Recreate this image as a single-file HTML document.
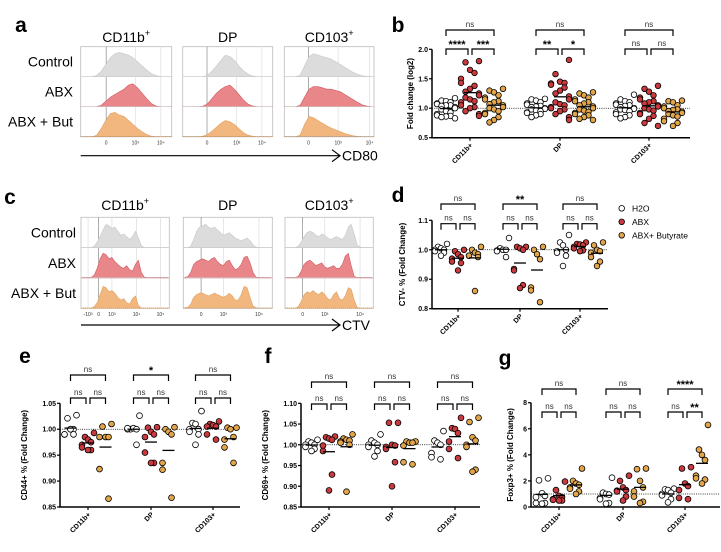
<!DOCTYPE html>
<html><head><meta charset="utf-8">
<style>
html,body{margin:0;padding:0;background:#fff;}
svg{display:block;font-family:"Liberation Sans",Arial,sans-serif;}
</style></head>
<body>
<svg id="fig" width="721" height="552" viewBox="0 0 721 552" xmlns="http://www.w3.org/2000/svg"></svg>
<script>
// ---------- DATA ----------
const categories = ["CD11b+","DP","CD103+"];
const conditions = ["H2O","ABX","ABX+ Butyrate"];
const histRows = ["Control","ABX","ABX + But"];
const histCols = ["CD11b","DP","CD103"];

// panel b: Fold change (log2)
const b_cd11b_h2o=[1.17,1.13,1.12,1.1,1.08,1.07,1.05,1.05,1.04,1.02,1.0,0.98,0.95,0.93,0.9,0.88,0.87,0.86,0.85,0.83];
const b_cd11b_abx=[1.8,1.78,1.65,1.6,1.5,1.43,1.38,1.33,1.28,1.25,1.22,1.18,1.15,1.12,1.1,1.05,1.02,1.0,0.95,0.9,0.87];
const b_cd11b_but=[1.33,1.3,1.27,1.22,1.18,1.15,1.12,1.1,1.07,1.05,1.02,1.0,0.98,0.95,0.92,0.9,0.85,0.8,0.76];
const b_dp_h2o=[1.16,1.15,1.13,1.1,1.08,1.06,1.04,1.03,1.02,1.0,0.99,0.98,0.96,0.95,0.93,0.92,0.9,0.88,0.85];
const b_dp_abx=[1.82,1.58,1.45,1.43,1.42,1.4,1.35,1.3,1.25,1.2,1.15,1.1,1.07,1.05,1.02,1.0,0.98,0.95,0.9,0.85,0.8];
const b_dp_but=[1.27,1.25,1.22,1.18,1.15,1.12,1.1,1.08,1.05,1.03,1.0,0.98,0.96,0.94,0.92,0.9,0.88,0.85,0.82,0.8];
const b_cd103_h2o=[1.23,1.15,1.12,1.1,1.08,1.06,1.05,1.04,1.02,1.0,0.99,0.98,0.97,0.95,0.93,0.9,0.88,0.85,0.83];
const b_cd103_abx=[1.38,1.33,1.28,1.22,1.18,1.15,1.12,1.1,1.08,1.05,1.03,1.0,0.98,0.96,0.92,0.9,0.87,0.82,0.75,0.7];
const b_cd103_but=[1.13,1.12,1.1,1.05,1.03,1.0,0.98,0.97,0.95,0.94,0.92,0.9,0.88,0.86,0.82,0.78,0.75,0.7];
const b_ticks=[0.5,1.0,1.5,2.0];
const b_sig_top=["ns","ns","ns"];
const b_sig_left=["****","**","ns"];
const b_sig_right=["***","*","ns"];

// panel d: CTV- %
const d_cd11b_h2o=[1.02,1.01,1.005,1.0,1.0,0.995,0.99,0.98];
const d_cd11b_abx=[1.0,0.995,0.985,0.975,0.97,0.96,0.955,0.93];
const d_cd11b_but=[1.01,1.0,0.99,0.985,0.98,0.98,0.975,0.86];
const d_dp_h2o=[1.04,1.005,1.0,1.0,0.998,0.995,0.975];
const d_dp_abx=[1.01,1.01,1.005,1.0,0.935,0.93,0.88,0.87];
const d_dp_but=[1.01,1.0,0.985,0.968,0.872,0.862,0.822];
const d_cd103_h2o=[1.05,1.025,1.015,1.0,0.995,0.99,0.98,0.945];
const d_cd103_abx=[1.025,1.02,1.018,1.015,1.01,1.005,0.998,0.995];
const d_cd103_but=[1.025,1.015,1.0,0.995,0.99,0.975,0.96,0.945];
const d_ticks=[0.8,0.9,1.0,1.1];
const d_sig_top=["ns","**","ns"];
const d_sig_left=["ns","ns","ns"];
const d_sig_right=["ns","ns","ns"];

// panel e: CD44+ %
const e_cd11b_h2o=[1.027,1.021,1.0,1.0,0.99,0.99,0.99,1.0];
const e_cd11b_abx=[0.993,0.985,0.98,0.975,0.97,0.965,0.96,0.96];
const e_cd11b_but=[1.01,1.005,0.985,0.985,0.985,0.923,0.866];
const e_dp_h2o=[1.026,1.0,1.002,1.0,1.0,1.002,0.97];
const e_dp_abx=[1.004,1.003,0.995,0.99,0.985,0.955,0.935,0.935];
const e_dp_but=[1.004,1.0,0.995,0.99,0.935,0.922,0.868];
const e_cd103_h2o=[1.035,1.012,1.01,1.0,1.0,0.995,0.99,0.97];
const e_cd103_abx=[1.015,1.01,1.008,1.005,1.005,0.99,0.98];
const e_cd103_but=[1.003,1.003,1.0,0.985,0.98,0.965,0.935];
const e_ticks=[0.85,0.90,0.95,1.00,1.05];
const e_sig_top=["ns","*","ns"];
const e_sig_left=["ns","ns","ns"];
const e_sig_right=["ns","ns","ns"];

// panel f: CD69+ %
const f_cd11b_h2o=[1.012,1.008,1.005,1.0,1.0,0.995,0.99,0.985];
const f_cd11b_abx=[1.02,1.018,1.015,1.012,0.998,0.985,0.928,0.89];
const f_cd11b_but=[1.025,1.015,1.012,1.01,1.008,1.005,1.0,0.887];
const f_dp_h2o=[1.025,1.01,1.005,1.0,1.0,0.995,0.985,0.972];
const f_dp_abx=[1.053,1.053,1.0,0.998,0.995,0.99,0.958,0.9];
const f_dp_but=[1.008,1.008,1.005,1.005,0.998,0.958,0.953];
const f_cd103_h2o=[1.033,1.01,1.005,1.0,0.98,0.97,0.965];
const f_cd103_abx=[1.065,1.04,1.038,1.028,1.008,0.99,0.968];
const f_cd103_but=[1.065,1.055,1.018,1.01,1.0,0.995,0.94,0.935];
const f_ticks=[0.85,0.90,0.95,1.00,1.05,1.10];
const f_sig_top=["ns","ns","ns"];
const f_sig_left=["ns","ns","ns"];
const f_sig_right=["ns","ns","ns"];

// panel g: Foxp3+ %
const g_cd11b_h2o=[2.2,2.05,1.05,0.85,0.75,0.3,0.3,0.25];
const g_cd11b_abx=[1.95,1.3,0.85,0.75,0.6,0.55,0.5,0.5];
const g_cd11b_but=[2.95,2.0,1.8,1.7,1.5,1.4,1.2,1.0];
const g_dp_h2o=[2.25,1.1,1.0,0.95,0.7,0.6,0.3,0.25];
const g_dp_abx=[2.4,2.0,1.5,1.3,1.25,1.2,0.8,0.5];
const g_dp_but=[2.95,2.9,2.0,1.5,1.2,0.8,0.4,0.3];
const g_cd103_h2o=[1.4,1.35,1.3,1.1,1.0,0.9,0.6,0.35];
const g_cd103_abx=[3.05,2.95,1.8,1.6,1.3,0.7,0.6];
const g_cd103_but=[6.3,4.4,4.0,3.6,2.4,2.2,2.1,1.8];
const g_ticks=[0,2,4,6,8];
const g_sig_top=["ns","ns","****"];
const g_sig_left=["ns","ns","ns"];
const g_sig_right=["ns","ns","**"];

// histograms panel a (CD80), relative heights across box width
const a_cd11b_ctrl=[0,0,0,0.05,0.2,0.45,0.7,0.85,0.9,0.85,0.8,0.7,0.55,0.4,0.25,0.12,0.05,0,0,0];
const a_cd11b_abx=[0,0,0,0,0.05,0.2,0.35,0.45,0.55,0.65,0.8,0.85,0.7,0.5,0.3,0.12,0.03,0,0,0];
const a_cd11b_but=[0,0,0,0.05,0.3,0.6,0.85,0.9,0.8,0.75,0.6,0.45,0.3,0.18,0.08,0.02,0,0,0,0];
const a_dp_ctrl=[0,0,0,0,0,0.05,0.2,0.4,0.6,0.8,0.75,0.6,0.4,0.22,0.1,0.03,0,0,0,0];
const a_dp_abx=[0,0,0,0,0.02,0.1,0.3,0.5,0.65,0.75,0.8,0.65,0.45,0.25,0.1,0.03,0,0,0,0];
const a_dp_but=[0,0,0,0,0.02,0.08,0.2,0.35,0.5,0.6,0.55,0.45,0.3,0.15,0.06,0.02,0,0,0,0];
const a_cd103_ctrl=[0,0,0,0.05,0.4,0.75,0.85,0.8,0.75,0.7,0.65,0.55,0.45,0.35,0.25,0.15,0.08,0.03,0.01,0];
const a_cd103_abx=[0,0,0,0.05,0.35,0.65,0.75,0.75,0.7,0.65,0.65,0.6,0.55,0.45,0.35,0.25,0.15,0.06,0.02,0];
const a_cd103_but=[0,0,0,0.05,0.45,0.75,0.7,0.6,0.5,0.4,0.32,0.25,0.18,0.12,0.07,0.03,0.01,0,0,0];
// histograms panel c (CTV)
const c_cd11b_ctrl=[0,0,0,0,0.05,0.2,0.4,0.65,0.85,0.8,0.7,0.75,0.6,0.45,0.5,0.4,0.3,0.4,0.6,0.35,0.08,0,0,0,0,0,0,0,0,0];
const c_cd11b_abx=[0.02,0.02,0.02,0.02,0.1,0.35,0.7,0.9,0.85,0.7,0.75,0.6,0.5,0.4,0.35,0.45,0.3,0.25,0.5,0.65,0.2,0.03,0.02,0.02,0.02,0.02,0.02,0.02,0.02,0.02];
const c_cd11b_but=[0,0,0,0,0.05,0.2,0.5,0.8,0.75,0.6,0.65,0.55,0.4,0.3,0.35,0.2,0.15,0.35,0.45,0.1,0,0,0,0,0,0,0,0,0,0];
const c_dp_ctrl=[0,0,0.05,0.3,0.6,0.75,0.8,0.85,0.75,0.7,0.75,0.65,0.55,0.45,0.5,0.55,0.45,0.35,0.3,0.25,0.3,0.35,0.25,0.1,0.02,0,0,0,0,0];
const c_dp_abx=[0.02,0.05,0.2,0.5,0.6,0.65,0.7,0.65,0.6,0.7,0.75,0.6,0.5,0.45,0.6,0.65,0.45,0.3,0.35,0.5,0.75,0.8,0.55,0.2,0.03,0.02,0.02,0.02,0.02,0.02];
const c_dp_but=[0.02,0.03,0.15,0.4,0.5,0.55,0.55,0.5,0.45,0.5,0.55,0.5,0.45,0.4,0.45,0.55,0.45,0.3,0.3,0.5,0.8,0.75,0.4,0.08,0.02,0,0,0,0,0];
const c_cd103_ctrl=[0,0,0,0,0.05,0.2,0.4,0.55,0.6,0.55,0.45,0.4,0.5,0.45,0.35,0.3,0.35,0.4,0.35,0.3,0.45,0.75,0.85,0.5,0.1,0.02,0,0,0,0];
const c_cd103_abx=[0.02,0.02,0.02,0.02,0.05,0.25,0.5,0.6,0.65,0.55,0.45,0.5,0.55,0.4,0.35,0.4,0.45,0.35,0.35,0.5,0.8,0.9,0.45,0.05,0.02,0.02,0.02,0.02,0.02,0.02];
const c_cd103_but=[0,0,0,0,0.05,0.25,0.5,0.6,0.55,0.65,0.55,0.5,0.6,0.5,0.35,0.3,0.5,0.6,0.35,0.3,0.45,0.75,0.7,0.3,0.03,0,0,0,0,0];

// ---------- DRAWING ----------
const NS="http://www.w3.org/2000/svg";
const svg=document.getElementById('fig');
function mk(tag,attrs,parent){const e=document.createElementNS(NS,tag);for(const k in attrs)e.setAttribute(k,attrs[k]);(parent||svg).appendChild(e);return e;}
function txt(s,attrs,parent){const t=mk('text',attrs,parent);t.textContent=s;return t;}

const FILL=["#fff","#c9393d","#e3a54a"];
const HFILL=["#dcdcdc","#e8868a","#f2b77e"];
const HSTROKE=["#c8c8c8","#d25a62","#e0a060"];

function letter(s,x,y){const t=txt(s,{x:x,y:y,'font-size':21,'font-weight':'bold','text-anchor':'middle'});

}

function histPanel(id,L,data,ticks,axisLabel,arrowEnd){
  const g=mk('g',{});
  
  
  histRows.forEach((r,ri)=>{
    const t=txt(r,{x:L.rowX,y:L.top+L.rh*ri+L.rh/2+5,'font-size':14,'text-anchor':'end'},g);
    
    
  });
  L.boxes.forEach((bx,ci)=>{
    const tt=txt(L.titles[ci],{x:(bx[0]+bx[1])/2,y:L.titleY,'font-size':14,'text-anchor':'middle'},g);
    if(L.titles[ci]!=="DP"){const sp=document.createElementNS(NS,'tspan');sp.setAttribute('font-size',9);sp.setAttribute('dy',-6);sp.textContent='+';tt.appendChild(sp);}
    
    
    const w=bx[1]-bx[0], h=L.rh*3;
    const box=mk('rect',{x:bx[0],y:L.top,width:w,height:h,fill:'#fff',stroke:'#bbb','stroke-width':0.8},g);
    
    
    ticks[ci].forEach((tk,k)=>{
      const x=bx[0]+tk[0]*w;
      mk('line',{x1:x,x2:x,y1:L.top,y2:L.top+h,stroke:k===L.zeroIdx[ci]?'#888':'#ddd','stroke-width':0.7},g);
      const tl=txt(tk[1],{x:x,y:L.top+h+8,'font-size':5,'text-anchor':'middle',fill:'#333'},g);
      
      
    });
    for(let ri=0;ri<3;ri++){
      const arr=data[ci][ri], base=L.top+L.rh*(ri+1), n=arr.length;
      let p='M'+bx[0]+','+base;
      arr.forEach((v,i)=>{const x=bx[0]+(i+0.5)/n*w;p+=' L'+x.toFixed(1)+','+(base-v*(L.rh-3)).toFixed(1);});
      p+=' L'+bx[1]+','+base+' Z';
      const path=mk('path',{d:p,fill:HFILL[ri],stroke:HSTROKE[ri],'stroke-width':0.6,'stroke-linejoin':'round'},g);
      
      
      if(ri<2) mk('line',{x1:bx[0],x2:bx[1],y1:base,y2:base,stroke:'#ccc','stroke-width':0.7},g);
    }
    mk('line',{x1:bx[0],x2:bx[1],y1:L.top+h,y2:L.top+h,stroke:'#999','stroke-width':0.8,'stroke-dasharray':'1,1'},g);
  });
  const ay=L.arrowY;
  const ar=mk('path',{d:`M${L.boxes[0][0]},${ay} L${arrowEnd},${ay} M${arrowEnd-8},${ay-6} L${arrowEnd},${ay} L${arrowEnd-8},${ay+6}`,stroke:'#000','stroke-width':1.2,fill:'none'},g);
  
  
  const al=txt(axisLabel,{x:arrowEnd+2,y:ay+5,'font-size':14},g);
  
  
}

function scatterPanel(id,P,series,ticks,sigTop,sigL,sigR){
  const g=mk('g',{});
  
  
  const y=v=>P.yB-(v-P.vmin)/(P.vmax-P.vmin)*(P.yB-P.yT);
  const ya=mk('line',{x1:P.ax,x2:P.ax,y1:P.yT,y2:P.yB,stroke:'#000','stroke-width':1.5},g);
  
  
  const xa=mk('line',{x1:P.ax-0.7,x2:P.xEnd,y1:P.yB,y2:P.yB,stroke:'#000','stroke-width':1.5},g);
  
  
  ticks.forEach(t=>{
    mk('line',{x1:P.ax-3,x2:P.ax,y1:y(t),y2:y(t),stroke:'#000','stroke-width':1.2},g);
    const tl=txt(t.toFixed(P.dec),{x:P.ax-4,y:y(t)+2.5,'font-size':7,'font-weight':'bold','text-anchor':'end'},g);
    
    
  });
  const yt=txt(P.title,{x:P.titleX,y:(P.yT+P.yB)/2,'font-size':8,'font-weight':'bold','text-anchor':'middle',transform:`rotate(-90 ${P.titleX} ${(P.yT+P.yB)/2})`},g);
  
  
  const ref=mk('line',{x1:P.ax,x2:P.xEnd,y1:y(P.ref),y2:y(P.ref),stroke:'#000','stroke-width':0.8,'stroke-dasharray':'1,1.2'},g);
  
  
  categories.forEach((c,gi)=>{
    const gc=P.gc[gi];
    mk('line',{x1:gc,x2:gc,y1:P.yB,y2:P.yB+3,stroke:'#000','stroke-width':1.2},g);
    const cl=txt(c,{x:gc+3,y:P.yB+8,'font-size':7,'font-weight':'bold','text-anchor':'end',transform:`rotate(-45 ${gc+3} ${P.yB+8})`},g);
    
    
    const xs=[gc-P.off,gc,gc+P.off];
    series[gi].forEach((arr,si)=>{
      arr.forEach((v,i)=>{
        const jit=((i%5)-2)*P.jit*(i%2?1:-1)*0.5;
        const ci=mk('circle',{cx:(xs[si]+jit).toFixed(1),cy:y(v).toFixed(1),r:P.r,fill:FILL[si],stroke:'#000','stroke-width':0.8},g);
        
        
      });
      const m=arr.reduce((a,b)=>a+b,0)/arr.length;
      const ml=mk('line',{x1:xs[si]-6,x2:xs[si]+6,y1:y(m),y2:y(m),stroke:'#000','stroke-width':1.3},g);
      
      
    });
    const br=(x1,x2,yy,lab)=>{
      const b=mk('path',{d:`M${x1},${yy+6} L${x1},${yy} L${x2},${yy} L${x2},${yy+6}`,fill:'none',stroke:'#000','stroke-width':1.2},g);
      
      
      const star=lab!=='ns';
      const t=txt(lab,{x:(x1+x2)/2,y:yy-(star?1:3),'font-size':star?11:8,'font-weight':star?'bold':'normal','text-anchor':'middle',fill:star?'#000':'#333'},g);
      
      
    };
    br(xs[0],xs[2],P.bTop,sigTop[gi]);
    br(xs[0],xs[1]-2,P.bBot,sigL[gi]);
    br(xs[1]+2,xs[2],P.bBot,sigR[gi]);
  });
}

letter('a',21,32);
histPanel('a',{rowX:73,top:46.7,rh:30,titleY:42,arrowY:155.7,zeroIdx:[0,0,0],
  boxes:[[80.7,171.7],[182.7,272.7],[284.3,374]],titles:["CD11b","DP","CD103"]},
  [[a_cd11b_ctrl,a_cd11b_abx,a_cd11b_but],[a_dp_ctrl,a_dp_abx,a_dp_but],[a_cd103_ctrl,a_cd103_abx,a_cd103_but]],
  [[[0.28,'0'],[0.6,'10³'],[0.88,'10⁴']],[[0.27,'0'],[0.6,'10³'],[0.88,'10⁴']],[[0.27,'0'],[0.6,'10³'],[0.95,'10⁴']]],
  'CD80',340);
letter('c',10,204);
histPanel('c',{rowX:76,top:217.3,rh:30.3,titleY:210,arrowY:325,zeroIdx:[1,0,0],
  boxes:[[81,169.3],[183.3,272.3],[285,373.3]],titles:["CD11b","DP","CD103"]},
  [[c_cd11b_ctrl,c_cd11b_abx,c_cd11b_but],[c_dp_ctrl,c_dp_abx,c_dp_but],[c_cd103_ctrl,c_cd103_abx,c_cd103_but]],
  [[[0.08,'-10³'],[0.2,'0'],[0.35,'10³'],[0.63,'10⁴'],[0.9,'10⁵']],[[0.2,'0'],[0.45,'10³'],[0.85,'10⁴']],[[0.2,'0'],[0.45,'10³'],[0.85,'10⁴']]],
  'CTV',340);

letter('b',398,32);
scatterPanel('b',{ax:432,xEnd:690,yT:49.3,yB:137.7,vmin:0.5,vmax:2.0,dec:1,ref:1,title:'Fold change (log2)',titleX:413,
  gc:[470,560,649],off:24,jit:9,r:2.8,bTop:30,bBot:49},
  [[b_cd11b_h2o,b_cd11b_abx,b_cd11b_but],[b_dp_h2o,b_dp_abx,b_dp_but],[b_cd103_h2o,b_cd103_abx,b_cd103_but]],
  b_ticks,b_sig_top,b_sig_left,b_sig_right);

letter('d',398,202);
scatterPanel('d',{ax:432,xEnd:608,yT:220.3,yB:308.7,vmin:0.8,vmax:1.1,dec:1,ref:1,title:'CTV- % (Fold Change)',titleX:405,
  gc:[458,520,580],off:17,jit:6,r:2.8,bTop:204,bBot:223.7},
  [[d_cd11b_h2o,d_cd11b_abx,d_cd11b_but],[d_dp_h2o,d_dp_abx,d_dp_but],[d_cd103_h2o,d_cd103_abx,d_cd103_but]],
  d_ticks,d_sig_top,d_sig_left,d_sig_right);
conditions.forEach((c,i)=>{
  const lc=mk('circle',{cx:621.7,cy:208.3+i*13.5,r:2.8,fill:FILL[i],stroke:'#000','stroke-width':0.8});
  
  
  const lt=txt(c,{x:632,y:211.5+i*13.5,'font-size':8.5});
  
  
});

letter('e',25,363);
scatterPanel('e',{ax:60,xEnd:240,yT:403.3,yB:507,vmin:0.85,vmax:1.05,dec:2,ref:1,title:'CD44+ % (Fold Change)',titleX:27,
  gc:[88,151,213],off:17.5,jit:6,r:2.9,bTop:375,bBot:398},
  [[e_cd11b_h2o,e_cd11b_abx,e_cd11b_but],[e_dp_h2o,e_dp_abx,e_dp_but],[e_cd103_h2o,e_cd103_abx,e_cd103_but]],
  e_ticks,e_sig_top,e_sig_left,e_sig_right);

letter('f',268,363);
scatterPanel('f',{ax:301,xEnd:480,yT:403.3,yB:507,vmin:0.85,vmax:1.10,dec:2,ref:1,title:'CD69+ % (Fold Change)',titleX:268,
  gc:[329,392,455],off:17.5,jit:6,r:2.9,bTop:382,bBot:404},
  [[f_cd11b_h2o,f_cd11b_abx,f_cd11b_but],[f_dp_h2o,f_dp_abx,f_dp_but],[f_cd103_h2o,f_cd103_abx,f_cd103_but]],
  f_ticks,f_sig_top,f_sig_left,f_sig_right);

letter('g',505,365);
scatterPanel('g',{ax:531,xEnd:720,yT:402.7,yB:507,vmin:0,vmax:8,dec:0,ref:1,title:'Foxp3+ % (Fold Change)',titleX:513,
  gc:[559,623,685],off:17,jit:6,r:2.9,bTop:389,bBot:412},
  [[g_cd11b_h2o,g_cd11b_abx,g_cd11b_but],[g_dp_h2o,g_dp_abx,g_dp_but],[g_cd103_h2o,g_cd103_abx,g_cd103_but]],
  g_ticks,g_sig_top,g_sig_left,g_sig_right);
</script>
</body></html>
